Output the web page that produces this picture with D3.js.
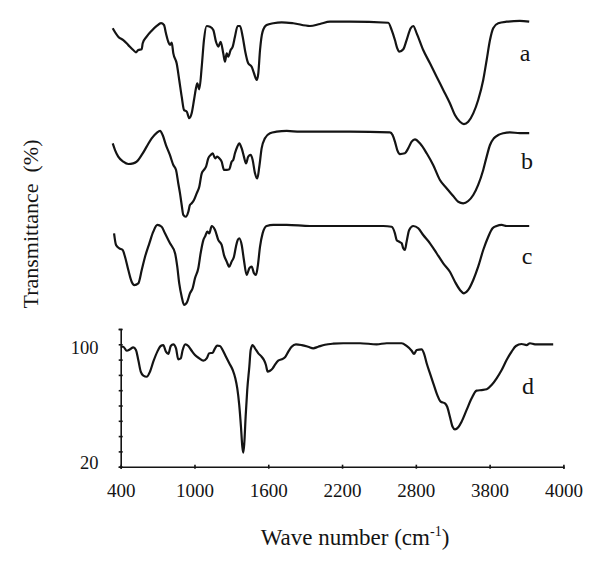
<!DOCTYPE html>
<html>
<head>
<meta charset="utf-8">
<script src="https://cdn.jsdelivr.net/npm/d3@7"></script>
<style>
  body { margin: 0; background: #fff; }
  svg { display: block; font-family: "Liberation Serif", "Times New Roman", serif; }
</style>
</head>
<body>
<div id="chart"></div>
<script>
// wave numbers (cm-1) and transmittance (%)
const aWave = [335,380,421,462,502,524,543,571,579,611,652,693,728,752,768,787,801,815,828,855,876,896,915,937,958,977,996,1012,1023,1039,1059,1077,1099,1126,1153,1175,1194,1213,1234,1248,1262,1275,1294,1311,1329,1351,1370,1392,1413,1437,1465,1484,1506,1519,1533,1554,1587,1641,1709,1803,1939,2020,2102,2264,2576,2603,2630,2649,2665,2698,2725,2758,2779,2807,2860,2915,2969,3023,3077,3118,3159,3191,3226,3267,3307,3348,3376,3403,3429,3470,3538,3646,3722];
const aTrans = [95.9,90.4,88.2,84.9,81.7,80.2,81.7,82.2,86.1,90.4,94.3,97.4,99.2,98.0,92.6,87.1,85.0,86.5,79.5,73.0,62.1,51.2,42.5,41.4,37.1,40.3,49.0,56.7,59.9,56.0,70.8,88.2,97.4,96.9,94.8,87.1,83.9,87.1,79.5,74.1,79.5,77.3,81.7,83.9,90.4,97.4,97.4,90.4,80.6,73.0,70.8,66.5,62.1,66.5,81.7,93.7,98.0,99.2,99.8,99.2,97.4,98.7,100.2,100.2,99.5,94.8,88.2,82.8,80.6,82.2,88.2,95.9,97.4,92.6,81.7,73.0,64.2,55.6,46.9,39.2,34.8,33.3,34.8,40.3,49.0,62.1,75.2,88.2,95.9,99.2,100.2,100.7,100.2];

const bWave = [335,354,380,421,462,502,530,571,611,652,693,720,741,768,800,828,850,868,882,896,909,929,950,963,977,996,1018,1039,1059,1077,1094,1112,1132,1148,1167,1185,1202,1221,1240,1262,1283,1302,1315,1329,1348,1364,1384,1402,1419,1437,1457,1473,1492,1511,1527,1546,1573,1614,1668,1750,1858,2264,2589,2611,2630,2649,2671,2711,2738,2766,2793,2833,2888,2941,2996,3050,3104,3145,3185,3226,3267,3307,3348,3376,3403,3435,3470,3511,3565,3646,3722];
const bTrans = [92.6,88.2,83.9,80.6,79.1,79.5,80.6,85.0,90.4,95.9,99.5,100.8,98.0,91.5,85.0,78.4,75.2,66.5,60.0,52.3,45.8,44.6,47.9,52.3,53.4,55.6,59.9,64.2,73.0,75.2,77.3,82.8,85.0,86.1,82.8,83.9,82.8,80.6,75.2,75.2,75.6,80.6,81.7,86.1,90.4,92.6,89.3,83.9,79.5,83.9,85.0,81.7,73.0,69.7,77.3,89.3,95.9,99.2,100.2,100.7,100.2,100.2,99.8,98.0,93.7,88.2,85.6,86.1,89.3,93.7,95.2,92.6,86.1,78.4,68.6,63.2,58.2,54.4,53.4,54.9,58.8,65.4,75.2,83.9,91.5,95.9,98.0,99.2,99.8,99.2,99.2];

const cWave = [346,362,389,416,435,462,489,511,543,571,598,633,665,698,733,760,801,842,860,876,896,915,941,963,985,1004,1031,1050,1072,1088,1104,1120,1140,1167,1194,1221,1240,1262,1283,1302,1321,1337,1351,1364,1384,1402,1424,1446,1465,1484,1500,1514,1533,1554,1587,1641,1750,1939,2264,2535,2603,2630,2644,2665,2685,2698,2711,2725,2746,2779,2820,2860,2915,2969,3023,3077,3118,3159,3191,3226,3267,3307,3348,3389,3424,3457,3498,3538,3722];
const cTrans = [95.2,87.6,85.4,84.3,79.9,71.2,63.6,61.4,62.5,71.2,79.9,88.7,96.3,100.7,99.5,95.2,88.7,82.2,73.4,62.5,53.8,48.4,50.5,56.0,59.3,65.8,72.4,82.2,90.8,93.5,96.3,95.2,100.0,97.4,90.8,87.6,81.0,76.7,73.4,76.7,79.9,86.5,90.8,92.0,87.6,77.8,68.0,72.4,73.4,69.1,68.0,73.4,86.5,95.2,100.0,100.7,100.7,100.0,100.0,100.0,99.5,95.2,90.8,89.7,88.7,85.4,84.3,89.7,97.4,100.0,98.5,94.1,88.7,82.2,75.6,70.1,63.6,58.2,56.0,58.2,64.7,73.4,84.3,93.0,98.5,100.0,100.7,100.0,100.0];

const dWave = [400,421,449,476,502,524,543,563,584,611,638,665,698,725,746,768,787,807,828,850,868,888,904,925,950,977,1004,1039,1072,1099,1120,1148,1167,1185,1207,1229,1256,1283,1311,1332,1348,1364,1378,1389,1397,1405,1416,1429,1446,1457,1473,1492,1519,1546,1565,1581,1595,1614,1636,1654,1681,1709,1736,1763,1790,1825,1872,1925,1966,2006,2061,2128,2210,2346,2481,2563,2685,2725,2766,2785,2807,2847,2866,2888,2915,2942,2974,3002,3037,3055,3077,3099,3118,3145,3172,3213,3254,3294,3335,3376,3416,3457,3498,3538,3579,3614,3660,3701,3728,3769,3917];
const dTrans = [98.4,98.4,95.8,96.7,98.0,96.3,89.7,82.1,79.5,78.8,82.1,88.6,95.2,98.9,99.5,95.2,93.7,98.9,100.0,97.4,90.2,90.8,96.3,100.0,98.9,95.8,93.0,90.8,89.3,90.8,94.1,94.5,97.4,99.1,98.9,96.3,91.9,87.6,83.2,77.8,71.2,60.3,46.1,33.1,29.2,35.3,52.7,70.1,85.4,96.3,99.5,97.4,94.1,91.9,89.7,86.5,82.1,82.7,84.3,86.5,89.3,90.2,91.5,95.2,98.4,100.0,99.5,98.4,97.4,98.4,99.7,100.4,100.7,100.7,100.0,100.7,100.7,98.9,95.8,93.7,96.3,96.7,94.1,87.6,81.0,74.5,66.9,62.5,61.4,59.2,52.7,46.1,44.4,45.8,49.4,57.1,64.7,69.7,70.1,70.6,73.4,77.8,83.2,89.7,95.2,98.9,100.2,99.5,100.7,100.0,100.0];

const seriesNames = ['a', 'b', 'c', 'd'];
const xTickValues = [400, 1000, 1600, 2200, 2800, 3400, 4000];
const xTickLabels = ['400', '1000', '1600', '2200', '2800', '3800', '4000'];
const yTickValues = [20, 30, 40, 50, 60, 70, 80, 90, 100, 110];
const yLabelValues = [100, 20];

const series = [
  { name: 'a', wave: aWave, trans: aTrans },
  { name: 'b', wave: bWave, trans: bTrans },
  { name: 'c', wave: cWave, trans: cTrans },
  { name: 'd', wave: dWave, trans: dTrans }
];

const width = 600, height = 569;
const ink = '#141414';

const x = d3.scaleLinear().domain([400, 4000]).range([120.7, 563.4]);
const y = d3.scaleLinear().domain([20, 110]).range([466.7, 329]);

// pixel row where each stacked spectrum has its 100 % level
const baseRow = { a: 22, b: 132, c: 226, d: y(100) };
const labelPos = { a: [525, 61], b: [527, 169], c: [527, 264], d: [528, 394] };

const svg = d3.select('#chart').append('svg')
  .attr('width', width)
  .attr('height', height);

svg.append('rect').attr('width', width).attr('height', height).attr('fill', '#fff');

const line = d3.line()
  .x(d => x(d[0]))
  .y(d => y(d[1]))
  .curve(d3.curveMonotoneX);

series.forEach(s => {
  const pts = s.wave.map((w, i) => [w, s.trans[i]]);
  svg.append('g')
    .attr('transform', 'translate(0,' + (baseRow[s.name] - y(100)) + ')')
  .append('path')
    .datum(pts)
    .attr('d', line)
    .attr('fill', 'none')
    .attr('stroke', ink)
    .attr('stroke-width', 2.2)
    .attr('stroke-linejoin', 'round');

  svg.append('text')
    .attr('x', labelPos[s.name][0])
    .attr('y', labelPos[s.name][1])
    .attr('text-anchor', 'middle')
    .attr('font-size', 24)
    .attr('fill', ink)
    .text(s.name);
});

// x axis
const xAxis = d3.axisBottom(x)
  .tickValues(xTickValues)
  .tickFormat((d, i) => xTickLabels[i])
  .tickSizeOuter(0)
  .tickSize(2)
  .tickPadding(15);

const gx = svg.append('g')
  .attr('transform', 'translate(0,' + y(20) + ')')
  .call(xAxis);
gx.select('.domain').attr('stroke', ink).attr('stroke-width', 1.6);
gx.selectAll('.tick line').attr('stroke', ink).attr('stroke-width', 1.6).attr('y1', -2);
gx.selectAll('.tick text').attr('font-size', 19).attr('fill', ink)
  .style('font-family', '"Liberation Serif", "Times New Roman", serif');

// y axis (ticks only, labels placed below)
const yAxis = d3.axisLeft(y)
  .tickValues(yTickValues)
  .tickFormat('')
  .tickSizeOuter(0)
  .tickSize(2);

const gy = svg.append('g')
  .attr('transform', 'translate(' + x(400) + ',0)')
  .call(yAxis);
gy.select('.domain').attr('stroke', ink).attr('stroke-width', 1.6);
gy.selectAll('.tick line').attr('stroke', ink).attr('stroke-width', 1.6).attr('x1', 2);

const yLabelShift = { 100: 10, 20: 2 };
svg.selectAll('.ylab')
  .data(yLabelValues)
  .join('text')
  .attr('class', 'ylab')
  .attr('x', 98.5)
  .attr('y', d => y(d) + yLabelShift[d])
  .attr('text-anchor', 'end')
  .attr('font-size', 18.5)
  .attr('fill', ink)
  .text(d => d);

// axis titles
const xt = svg.append('text')
  .attr('x', 355)
  .attr('y', 545)
  .attr('text-anchor', 'middle')
  .attr('font-size', 23)
  .attr('fill', ink);
xt.append('tspan').text('Wave number (cm');
xt.append('tspan').attr('font-size', 14).attr('dy', -9).text('-1');
xt.append('tspan').attr('dy', 9).text(')');

svg.append('text')
  .attr('transform', 'translate(38,224) rotate(-90)')
  .attr('text-anchor', 'middle')
  .attr('font-size', 22)
  .attr('fill', ink)
  .text('Transmittance  (%)')
  .style('white-space', 'pre');
</script>
</body>
</html>
